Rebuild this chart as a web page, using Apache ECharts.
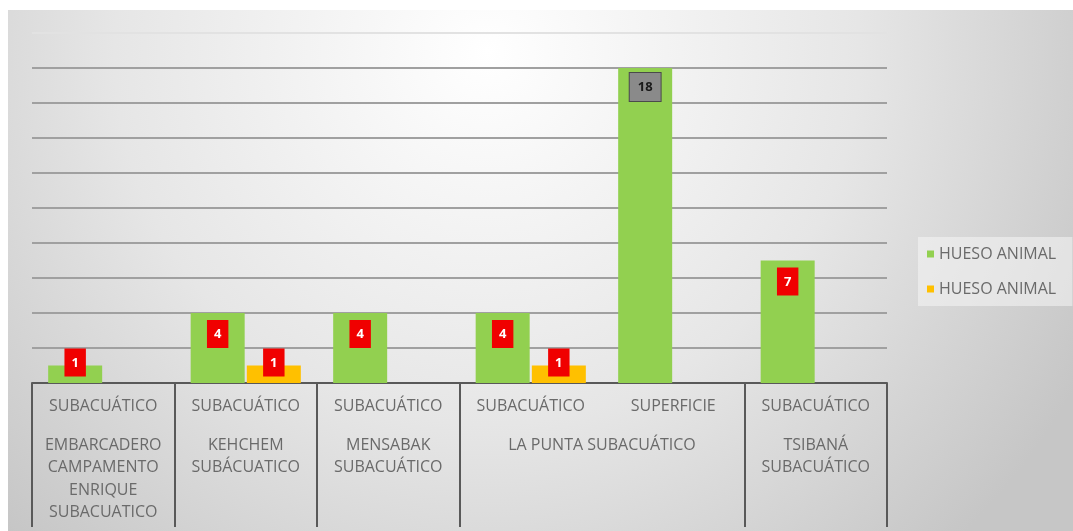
<!DOCTYPE html>
<html>
<head>
<meta charset="utf-8">
<script src="https://cdn.jsdelivr.net/npm/echarts@6/dist/echarts.min.js"></script>
<style>
html, body { margin: 0; padding: 0; background: #fff; }
#chart { width: 1073px; height: 531px; }
</style>
</head>
<body>
<div id="chart"></div>
<script>
// first level labels (one per bar slot)
const categories = ['SUBACUÁTICO', 'SUBACUÁTICO', 'SUBACUÁTICO', 'SUBACUÁTICO', 'SUPERFICIE', 'SUBACUÁTICO']
const greenValues = [1, 4, 4, 4, 18, 7]
const orangeValues = [null, 1, null, 1, null, null]
const seriesNames = ['HUESO ANIMAL', 'HUESO ANIMAL ']
// second level: site names and how many slots each one covers
const siteNames = [
    'EMBARCADERO\nCAMPAMENTO\nENRIQUE\nSUBACUATICO',
    'KEHCHEM\nSUBÁCUATICO',
    'MENSABAK\nSUBACUÁTICO',
    'LA PUNTA SUBACUÁTICO',
    'TSIBANÁ\nSUBACUÁTICO'
]
const siteSpans = [1, 1, 1, 2, 1]
const yTicks = [0, 2, 4, 6, 8, 10, 12, 14, 16, 18, 20]

const FONT = 'Open Sans'
const TEXT = '#6a6a6a'

// group boundaries / centers on a 0..n value axis laid over the category axis
const siteBounds = [0]
const siteCenters = []
siteSpans.forEach(s => {
    const start = siteBounds[siteBounds.length - 1]
    siteCenters.push(start + s / 2)
    siteBounds.push(start + s)
})

const maxVal = Math.max(...greenValues)

function withLabels(values) {
    return values.map(v => {
        if (v == null) return null
        if (v === maxVal) {
            return {
                value: v,
                label: {
                    distance: 5,
                    backgroundColor: '#8a8a8a',
                    borderColor: '#4a4a4a',
                    borderWidth: 1,
                    color: '#1a1a1a',
                    padding: [8, 8, 7, 8]
                }
            }
        }
        if (v < 2) {
            // too short for an inside label, box sits across the bar top
            return { value: v, label: { position: 'top', distance: -11 } }
        }
        return v
    })
}

// top gridline is washed out in the original
const gridColors = yTicks.map((t, i) => (i === yTicks.length - 1 ? '#e2e2e2' : '#a0a0a0'))

const chart = echarts.init(document.getElementById('chart'))

const barLabel = {
    show: true,
    position: 'insideTop',
    distance: 7,
    backgroundColor: '#f00000',
    color: '#ffffff',
    fontFamily: FONT,
    fontWeight: 'bold',
    fontSize: 13,
    padding: [8, 7, 7, 7]
}

chart.setOption({
    animation: false,
    graphic: [
        {
            type: 'rect',
            left: 8,
            top: 10,
            z: -10,
            shape: { width: 1065, height: 521 },
            style: {
                fill: {
                    type: 'radial',
                    x: 0.45,
                    y: 0.08,
                    r: 1.3,
                    colorStops: [
                        { offset: 0, color: '#ffffff' },
                        { offset: 0.55, color: '#e6e6e6' },
                        { offset: 1, color: '#c6c6c6' }
                    ]
                }
            }
        }
    ],
    grid: {
        left: 32,
        right: 186,
        top: 33,
        bottom: 148
    },
    legend: {
        orient: 'vertical',
        left: 918,
        top: 237,
        icon: 'rect',
        itemWidth: 7,
        itemHeight: 7,
        itemGap: 19,
        itemStyle: { borderWidth: 0 },
        padding: [9, 12, 9, 9],
        backgroundColor: 'rgba(245,245,245,0.55)',
        textStyle: { color: TEXT, fontFamily: FONT, fontSize: 16 },
        data: seriesNames
    },
    xAxis: [
        {
            type: 'category',
            data: categories,
            axisLine: { lineStyle: { color: '#595959', width: 2 } },
            axisTick: { show: false },
            axisLabel: {
                interval: 0,
                margin: 15,
                color: TEXT,
                fontFamily: FONT,
                fontSize: 16
            }
        },
        {
            type: 'value',
            position: 'bottom',
            min: 0,
            max: siteBounds[siteBounds.length - 1],
            axisLine: { show: false },
            splitLine: { show: false },
            axisTick: {
                show: true,
                customValues: siteBounds,
                length: 144,
                lineStyle: { color: '#595959', width: 2 }
            },
            axisLabel: {
                customValues: siteCenters,
                margin: 51,
                lineHeight: 22.5,
                color: TEXT,
                fontFamily: FONT,
                fontSize: 16,
                formatter: v => {
                    const i = siteCenters.findIndex(c => Math.abs(c - v) < 1e-6)
                    return i >= 0 ? siteNames[i] : ''
                }
            }
        }
    ],
    yAxis: {
        type: 'value',
        min: yTicks[0],
        max: yTicks[yTicks.length - 1],
        interval: yTicks[1] - yTicks[0],
        axisLine: { show: false },
        axisTick: { show: false },
        axisLabel: { show: false },
        splitLine: { lineStyle: { color: gridColors, width: 2 } }
    },
    series: [
        {
            name: seriesNames[0],
            type: 'bar',
            xAxisIndex: 0,
            barWidth: 54,
            barGap: '4%',
            itemStyle: { color: '#92d050' },
            label: barLabel,
            data: withLabels(greenValues)
        },
        {
            name: seriesNames[1],
            type: 'bar',
            xAxisIndex: 0,
            barWidth: 54,
            barGap: '4%',
            itemStyle: { color: '#ffc000' },
            label: barLabel,
            data: withLabels(orangeValues)
        }
    ]
})
</script>
</body>
</html>
